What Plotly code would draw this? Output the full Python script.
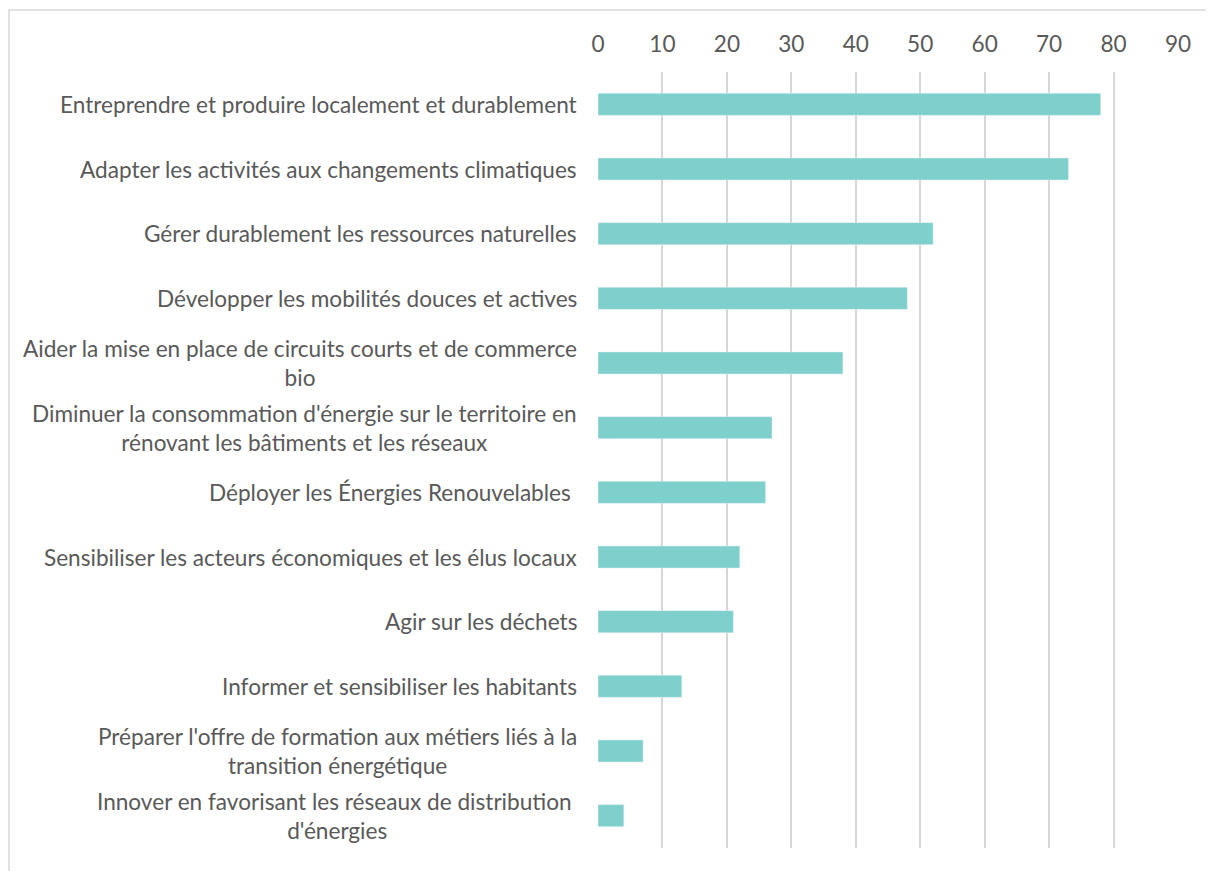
import plotly.graph_objects as go

# Données (du haut vers le bas)
categories = [
    "Entreprendre et produire localement et durablement",
    "Adapter les activités aux changements climatiques",
    "Gérer durablement les ressources naturelles",
    "Développer les mobilités douces et actives",
    "Aider la mise en place de circuits courts et de commerce<br>bio",
    "Diminuer la consommation d'énergie sur le territoire en<br>rénovant les bâtiments et les réseaux",
    "Déployer les Énergies Renouvelables ",
    "Sensibiliser les acteurs économiques et les élus locaux",
    "Agir sur les déchets",
    "Informer et sensibiliser les habitants",
    "Préparer l'offre de formation aux métiers liés à la<br>transition énergétique",
    "Innover en favorisant les réseaux de distribution <br>d'énergies",
]
values = [78, 73, 52, 48, 38, 27, 26, 22, 21, 13, 7, 4]
x_ticks = [0, 10, 20, 30, 40, 50, 60, 70, 80, 90]

# la page ajoute une marge de 8 px autour du graphique
W, H = 1206, 863
L, R, T, B = 590, 36, 64, 23
TEXT = "#595959"
FONT = "Lato, Carlito, Calibri, sans-serif"
FS = 22.6

fig = go.Figure(go.Bar(
    x=values,
    y=list(range(len(categories))),
    orientation="h",
    marker_color="#7DD0CC",
    width=0.34,
    hoverinfo="x",
))

# étiquettes de catégorie centrées (multi-lignes) comme dans Excel
for i, cat in enumerate(categories):
    fig.add_annotation(
        x=0, xref="paper", y=i, yref="y",
        text=cat, showarrow=False,
        xanchor="right", xshift=-19, align="center",
        font=dict(family=FONT, size=FS, color=TEXT),
    )

pw = W - L - R
ph = H - T - B
# cadre du graphique
fig.add_shape(
    type="rect", xref="paper", yref="paper",
    x0=(1 - L) / pw, x1=(W + 5 - L) / pw,
    y0=-(B + 5) / ph, y1=1 + (T - 2) / ph,
    line=dict(color="#D9D9D9", width=1.5),
    fillcolor="rgba(0,0,0,0)", layer="below",
)

fig.update_layout(
    width=W, height=H,
    margin=dict(l=L, r=R, t=T, b=B),
    paper_bgcolor="white", plot_bgcolor="white",
    showlegend=False,
    font=dict(family=FONT, size=FS, color=TEXT),
    xaxis=dict(
        side="top", range=[0, 90], tickvals=x_ticks,
        showgrid=True, gridcolor="#D6D6D6", gridwidth=1.5,
        zeroline=False, showline=False, ticks="",
        tickfont=dict(family=FONT, size=FS, color=TEXT),
        ticklabelstandoff=14,
    ),
    yaxis=dict(
        range=[len(categories) - 0.5, -0.5],
        showticklabels=False, showgrid=False, zeroline=False, ticks="",
    ),
)

fig.write_html("out.html")
